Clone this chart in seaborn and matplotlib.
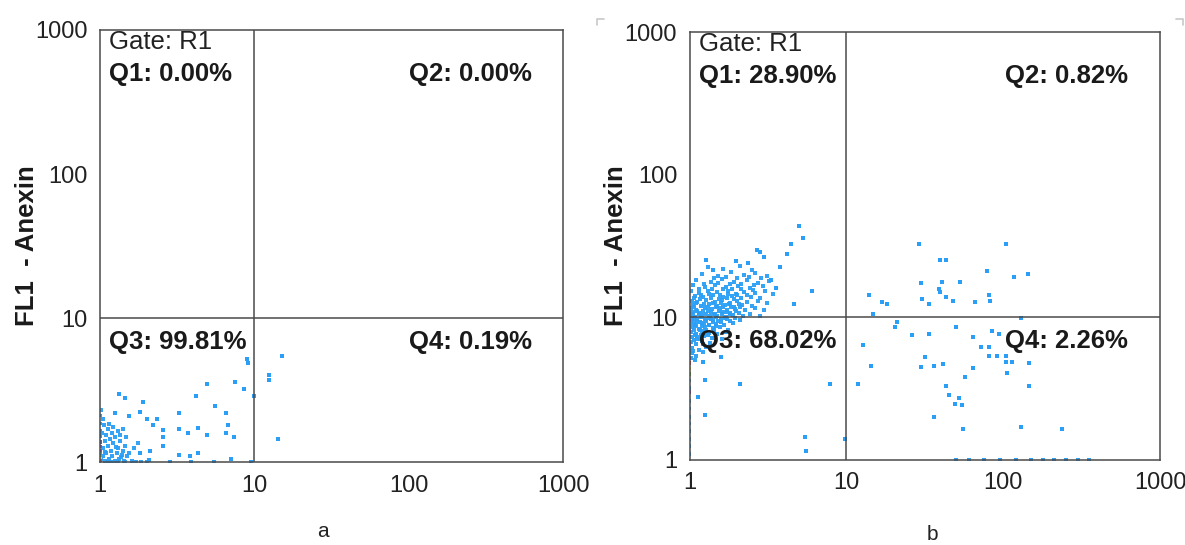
"""Annexin flow cytometry quadrant plots (panels a and b)."""

import matplotlib
matplotlib.use("Agg")
import matplotlib.pyplot as plt
import pandas as pd
import seaborn as sns
from matplotlib.lines import Line2D
from matplotlib.ticker import FixedLocator, LogLocator, NullFormatter

# ---------------------------------------------------------------------------
# data (FL2 on x, FL1 - Anexin on y)
# ---------------------------------------------------------------------------

TICKS = [1, 10, 100, 1000]
TICK_LABELS = ["1", "10", "100", "1000"]
GATE = 10

quadrants_a = ["Q1: 0.00%", "Q2: 0.00%", "Q3: 99.81%", "Q4: 0.19%"]
quadrants_b = ["Q1: 28.90%", "Q2: 0.82%", "Q3: 68.02%", "Q4: 2.26%"]

# panel a: dense blob in the corner
a_cluster = [
    (1.02, 1.05), (1.05, 1.10), (1.08, 1.02), (1.10, 1.15), (1.12, 1.30),
    (1.15, 1.05), (1.18, 1.20), (1.20, 1.10), (1.22, 1.35), (1.25, 1.02),
    (1.28, 1.15), (1.30, 1.25), (1.33, 1.05), (1.35, 1.40), (1.38, 1.12),
    (1.40, 1.20), (1.42, 1.02), (1.45, 1.30), (1.50, 1.10), (1.55, 1.15),
    (1.60, 1.02), (1.05, 1.25), (1.08, 1.40), (1.10, 1.55), (1.13, 1.70),
    (1.16, 1.45), (1.20, 1.60), (1.25, 1.50), (1.30, 1.65), (1.35, 1.55),
    (1.03, 1.60), (1.06, 1.80), (1.15, 1.85), (1.22, 1.75), (1.40, 1.70),
    (1.48, 1.50), (1.12, 1.00), (1.18, 1.00), (1.30, 1.00), (1.45, 1.00),
    (1.70, 1.00), (1.85, 1.00), (2.00, 1.00), (1.04, 2.00), (1.02, 2.30),
    (1.65, 1.25), (1.75, 1.35), (1.08, 1.18), (1.26, 1.28), (1.36, 1.08),
]

# panel a: scattered events
a_sparse = [
    (9.06, 4.90), (9.00, 5.20), (15.0, 5.50), (12.4, 4.00), (12.4, 3.70),
    (14.3, 1.45), (7.50, 3.60), (8.60, 3.20), (4.90, 3.50), (9.90, 2.90),
    (5.55, 2.45), (6.50, 2.20), (6.75, 1.80), (6.55, 1.59), (7.40, 1.50),
    (4.30, 1.72), (4.90, 1.55), (4.30, 1.16), (3.70, 1.60), (3.25, 1.70),
    (3.25, 2.20), (4.20, 2.90), (2.57, 1.67), (2.57, 1.50), (2.57, 1.30),
    (2.20, 1.80), (2.33, 1.98), (2.00, 1.98), (1.90, 2.62), (1.82, 2.23),
    (1.45, 2.80), (1.53, 2.09), (2.10, 1.20), (2.09, 1.04), (1.82, 1.15),
    (2.84, 1.00), (3.27, 1.12), (3.80, 1.11), (3.90, 1.00), (1.25, 2.18),
    (1.33, 2.96), (5.50, 1.00), (7.00, 1.05), (9.50, 1.00),
]

# events piled on the y axis (x = 1), with their density colour
a_edge_y = [2.10, 1.85, 1.65, 1.50, 1.38, 1.28, 1.20, 1.14, 1.09, 1.05, 1.02]
a_edge_tone = ["blue", "blue", "blue", "blue", "indigo", "violet", "violet",
               "teal", "green", "yellow", "red"]

# panel b: dense blob around FL1 ~ 10
b_cluster = [
    (1.30, 22.5), (1.62, 21.8), (2.10, 23.0), (2.50, 21.5),
    (1.20, 20.3), (1.52, 19.6), (1.83, 20.8), (2.22, 19.9), (2.62, 20.4), (3.10, 19.5),
    (1.10, 18.2), (1.36, 17.6), (1.61, 18.6), (1.92, 17.8), (2.33, 18.4), (2.72, 17.5),
    (3.22, 18.1), (1.05, 16.8), (1.26, 16.2), (1.46, 16.9), (1.71, 16.3), (2.02, 16.7),
    (2.42, 16.1), (2.93, 16.6), (1.02, 15.2), (1.15, 14.8), (1.31, 15.4), (1.50, 15.0),
    (1.76, 15.3), (1.96, 14.7), (2.21, 15.1), (2.61, 14.9), (3.02, 15.2), (3.40, 14.6),
    (1.08, 14.1), (1.22, 13.8), (1.41, 14.3), (1.63, 13.9), (1.86, 14.2), (2.11, 13.7),
    (2.46, 14.0), (2.82, 13.6), (1.03, 13.1), (1.12, 12.8), (1.28, 13.3), (1.45, 12.9),
    (1.60, 13.2), (1.81, 12.7), (2.01, 13.0), (2.31, 12.8), (2.71, 13.1), (3.12, 12.6),
    (1.05, 12.3), (1.18, 12.0), (1.33, 12.4), (1.50, 12.1), (1.68, 12.2), (1.91, 11.9),
    (2.16, 12.3), (2.51, 12.0), (1.02, 11.6), (1.10, 11.3), (1.25, 11.7), (1.38, 11.4),
    (1.55, 11.6), (1.72, 11.2), (1.95, 11.5), (2.26, 11.3), (2.60, 11.6), (3.00, 11.2),
    (1.04, 10.9), (1.15, 10.7), (1.30, 11.0), (1.45, 10.6), (1.62, 10.9), (1.82, 10.7),
    (2.05, 10.8), (2.41, 10.6), (1.01, 10.3), (1.08, 10.1), (1.20, 10.4), (1.35, 10.2),
    (1.50, 10.3), (1.70, 10.1), (1.90, 10.4), (2.20, 10.2), (2.80, 10.3), (1.03, 9.7),
    (1.12, 9.5), (1.25, 9.8), (1.40, 9.6), (1.58, 9.7), (1.80, 9.4), (2.10, 9.6),
    (1.02, 9.1), (1.10, 8.9), (1.20, 9.2), (1.32, 8.8), (1.48, 9.0), (1.65, 8.9),
    (1.90, 9.1), (1.04, 8.5), (1.14, 8.3), (1.26, 8.6), (1.40, 8.4), (1.55, 8.5),
    (1.75, 8.2), (1.02, 7.9), (1.10, 7.7), (1.20, 8.0), (1.33, 7.8), (1.50, 7.6),
    (1.70, 7.9), (1.03, 7.3), (1.12, 7.1), (1.24, 7.4), (1.38, 7.2), (1.60, 7.0),
    (1.02, 6.7), (1.10, 6.5), (1.20, 6.8), (1.35, 6.6), (1.04, 6.1), (1.14, 5.9),
    (1.28, 6.2), (1.03, 5.6), (1.10, 5.4), (1.22, 5.7), (1.02, 5.2), (1.08, 5.0),
    (1.07, 13.6), (1.17, 13.4), (1.36, 13.6), (1.53, 13.5), (1.72, 13.6), (1.92, 13.4),
    (1.09, 12.6), (1.23, 12.5), (1.40, 12.6), (1.58, 12.7), (1.78, 12.5), (2.06, 12.5),
    (1.06, 11.9), (1.30, 11.8), (1.47, 11.9), (1.64, 11.8), (1.84, 11.9), (2.10, 11.8),
    (1.12, 11.1), (1.22, 11.1), (1.37, 10.9), (1.54, 11.1), (1.72, 10.9), (1.98, 11.1),
    (1.05, 10.5), (1.15, 10.5), (1.28, 10.6), (1.42, 10.5), (1.60, 10.6), (1.80, 10.5),
    (1.06, 9.9), (1.18, 10.0), (1.32, 9.9), (1.48, 10.0), (1.68, 9.9), (1.95, 9.9),
    (1.07, 9.3), (1.16, 9.3), (1.28, 9.4), (1.40, 9.3), (1.58, 9.3), (1.08, 8.7),
    (1.20, 8.7), (1.33, 8.8), (1.48, 8.7), (1.06, 8.1), (1.16, 8.1), (1.28, 8.2),
    (1.42, 8.1), (1.08, 7.5), (1.18, 7.5), (1.30, 7.5), (1.07, 6.9), (1.16, 7.0),
    (1.14, 15.8), (1.38, 15.9), (1.64, 15.7), (1.86, 15.9), (2.12, 15.8), (2.52, 15.6),
    (1.18, 14.4), (1.33, 14.5), (1.56, 14.4), (1.76, 14.5), (2.00, 14.3), (2.32, 14.4),
    (1.24, 17.1), (1.52, 17.3), (1.80, 17.1), (2.14, 17.2), (2.56, 17.0), (1.42, 19.0),
    (1.70, 19.2), (2.00, 18.9), (2.40, 19.1), (2.85, 18.8), (1.12, 9.8), (1.24, 9.0),
    (1.36, 9.7), (1.52, 9.5), (1.74, 9.7), (1.12, 7.3), (1.22, 6.5), (1.05, 5.8),
]

# panel b: scattered events
b_sparse = [
    (5.00, 44.0), (5.30, 36.0), (4.46, 32.7), (4.16, 27.6), (2.68, 29.7), (2.79, 28.7),
    (1.28, 25.2), (1.41, 21.4), (1.98, 24.9), (2.35, 24.0), (3.00, 26.3), (3.74, 22.6),
    (3.32, 18.3), (3.57, 16.0), (6.05, 15.4), (4.66, 12.4), (13.9, 14.3), (14.7, 10.6),
    (12.7, 6.40), (14.4, 4.56), (7.80, 3.40), (11.9, 3.40), (2.08, 3.40), (1.59, 5.30),
    (1.25, 3.64), (1.13, 2.78), (1.25, 2.07), (5.40, 1.46), (5.50, 1.16), (9.80, 1.40),
    (1.21, 4.86), (29.2, 32.6), (104., 32.6), (39.4, 25.1), (43.1, 25.1), (78.6, 21.1),
    (117., 19.1), (143., 20.1), (29.8, 17.5), (40.6, 17.6), (53.2, 17.7), (38.7, 15.9),
    (39.4, 15.0), (43.1, 13.9), (48.0, 13.0), (30.5, 13.5), (33.7, 12.5), (65.8, 12.8),
    (81.4, 14.3), (82.0, 13.0), (16.9, 12.8), (18.1, 12.5), (21.0, 9.30), (20.5, 8.50),
    (26.2, 7.50), (33.7, 7.70), (49.6, 8.50), (63.7, 7.30), (84.3, 8.00), (94.0, 7.60),
    (129., 9.90), (72.0, 6.20), (81.0, 6.20), (80.5, 5.40), (91.6, 5.40), (104., 5.40),
    (104., 4.90), (114., 4.90), (146., 4.80), (31.8, 5.30), (29.8, 4.50), (36.3, 4.56),
    (41.4, 4.70), (63.7, 4.40), (106., 4.10), (57.0, 3.80), (43.1, 3.30), (146., 3.30),
    (44.9, 2.86), (52.0, 2.73), (49.3, 2.47), (54.3, 2.42), (36.3, 2.00), (55.5, 1.66),
    (130., 1.69), (237., 1.66), (50.0, 1.00), (60.0, 1.00), (75.0, 1.00), (95.0, 1.00),
    (120., 1.00), (150., 1.00), (180., 1.00), (210., 1.00), (250., 1.00), (300., 1.00),
    (350., 1.00),
]

b_edge_y = [9.5, 8.8, 8.0, 7.2, 6.5, 5.8, 5.2, 4.8, 4.4, 4.0, 3.6, 3.2, 3.0,
            2.6, 2.3, 2.0, 1.8, 1.6, 1.4, 1.25, 1.1]
b_edge_tone = ["violet", "blue", "violet", "blue", "violet", "blue", "indigo",
               "red", "yellow", "green", "blue", "blue", "violet", "blue",
               "blue", "blue", "blue", "blue", "blue", "blue", "blue"]

TONES = {
    "blue": "#2f9cf0", "indigo": "#4060d8", "violet": "#8a44d0", "teal": "#2fa6a0",
    "green": "#55c040", "yellow": "#e0d030", "red": "#e04535",
}
DOT = "#2a9ff5"
LINE = "#4a4a4a"
TEXT = 18.5


def to_frame(pairs):
    return pd.DataFrame(pairs, columns=["fl2", "fl1"])


def draw_panel(ax, cluster, sparse, edge_y, edge_tone, quads):
    sns.scatterplot(data=to_frame(cluster), x="fl2", y="fl1", ax=ax, color=DOT,
                    marker="s", s=5, linewidth=0, alpha=0.95)
    sns.scatterplot(data=to_frame(sparse), x="fl2", y="fl1", ax=ax, color=DOT,
                    marker="s", s=5.5, linewidth=0)
    edge = pd.DataFrame({"fl2": [1.0] * len(edge_y), "fl1": edge_y, "tone": edge_tone})
    sns.scatterplot(data=edge, x="fl2", y="fl1", hue="tone", palette=TONES, ax=ax,
                    marker="s", s=6, linewidth=0, legend=False)

    ax.set_xscale("log")
    ax.set_yscale("log")
    ax.set_xlim(1, 1000)
    ax.set_ylim(1, 1000)
    for axis in (ax.xaxis, ax.yaxis):
        axis.set_major_locator(FixedLocator(TICKS))
        axis.set_minor_locator(LogLocator(base=10, subs=range(2, 10)))
        axis.set_minor_formatter(NullFormatter())
    ax.set_xticklabels(TICK_LABELS)
    ax.set_yticklabels(TICK_LABELS)
    ax.tick_params(which="major", direction="out", length=6, width=1,
                   color=LINE, labelsize=17, labelcolor="#222222", pad=3)
    ax.tick_params(which="minor", direction="out", length=3.5, width=0.9, color=LINE)

    ax.axvline(GATE, color=LINE, lw=1.1)
    ax.axhline(GATE, color=LINE, lw=1.1)
    for side in ax.spines.values():
        side.set_visible(True)
        side.set_color(LINE)
        side.set_linewidth(1.1)

    ax.text(0.02, 1.0, "Gate: R1", transform=ax.transAxes, ha="left", va="top",
            fontsize=TEXT, color="#222222")
    ax.text(0.02, 0.925, quads[0], transform=ax.transAxes, ha="left", va="top",
            fontsize=TEXT, fontweight="bold", color="#1a1a1a")
    ax.text(0.932, 0.925, quads[1], transform=ax.transAxes, ha="right", va="top",
            fontsize=TEXT, fontweight="bold", color="#1a1a1a")
    ax.text(0.02, 0.305, quads[2], transform=ax.transAxes, ha="left", va="top",
            fontsize=TEXT, fontweight="bold", color="#1a1a1a")
    ax.text(0.932, 0.305, quads[3], transform=ax.transAxes, ha="right", va="top",
            fontsize=TEXT, fontweight="bold", color="#1a1a1a")

    ax.set_ylabel("FL1  - Anexin", fontsize=TEXT, fontweight="bold", color="#1a1a1a")
    ax.yaxis.set_label_coords(-0.131, 0.5)
    ax.set_xlabel("")


sns.set_theme(style="white")
plt.rcParams["font.family"] = ["Liberation Sans", "DejaVu Sans"]

fig = plt.figure(figsize=(11.85, 5.45), dpi=100)
ax_a = fig.add_axes([0.0844, 0.152, 0.391, 0.793])
ax_b = fig.add_axes([0.582, 0.156, 0.397, 0.785])

draw_panel(ax_a, a_cluster, a_sparse, a_edge_y, a_edge_tone, quadrants_a)
draw_panel(ax_b, b_cluster, b_sparse, b_edge_y, b_edge_tone, quadrants_b)

# panel letters under each plot
fig.text(0.2726, 0.024, "a", ha="center", va="center", fontsize=15, color="#222222")
fig.text(0.7865, 0.020, "b", ha="center", va="center", fontsize=15, color="#222222")

# faint crop-corner marks around panel b, as in the source image
for xs, ys in [((0.504, 0.504, 0.510), (0.955, 0.966, 0.966)),
               ((0.992, 0.998, 0.998), (0.966, 0.966, 0.955))]:
    fig.add_artist(Line2D(xs, ys, transform=fig.transFigure, color="#c8c8c8", lw=1.2))

fig.savefig("out.png", dpi=100)
